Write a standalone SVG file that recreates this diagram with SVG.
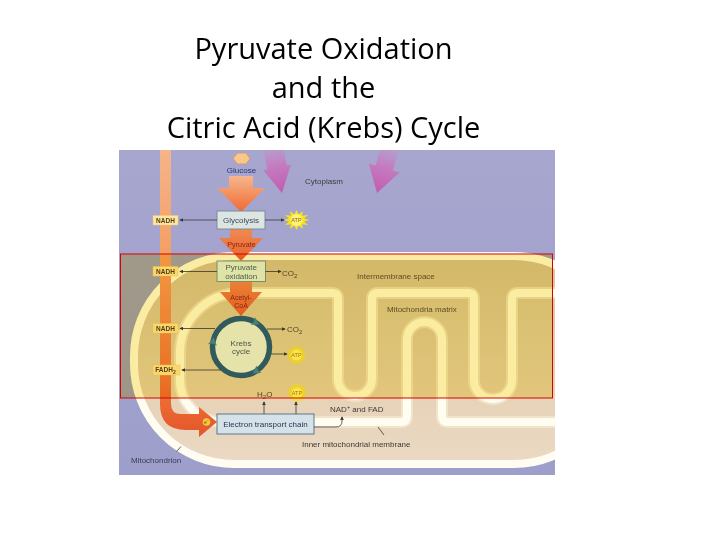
<svg xmlns="http://www.w3.org/2000/svg" width="720" height="540" viewBox="0 0 720 540">
<style>
.lbl{font-family:"Liberation Sans",Arial,sans-serif;font-size:8px;fill:#3b3a36}
.nb{font-family:"Liberation Sans",Arial,sans-serif;font-size:6.5px;font-weight:bold;fill:#5c3b12;text-anchor:middle}
.ttl{font-family:"Open Sans","Noto Sans",sans-serif;font-size:29px;fill:#000;text-anchor:middle}
.ln{fill:none;stroke:#3a3a38;stroke-width:0.8}
.mem{stroke:#fffcf0;stroke-width:8;stroke-linejoin:round}
.nbox{fill:#fde6a2;stroke:#f0c870;stroke-width:0.5}
.atpt{font-family:"Liberation Sans",Arial,sans-serif;font-size:5.5px;fill:#8a6400;text-anchor:middle}
.fat{fill:url(#ogr2)}
.parr{fill:url(#pgr)}
</style>
<defs>
<clipPath id="pic"><rect x="119" y="150" width="436" height="325"/></clipPath>
<marker id="ah" viewBox="0 0 6 6" refX="5" refY="3" markerWidth="5" markerHeight="5" orient="auto"><path d="M0,0 L6,3 L0,6 Z" fill="#3a3a38"/></marker>
<linearGradient id="igr" gradientUnits="userSpaceOnUse" x1="0" y1="256" x2="0" y2="464"><stop offset="0" stop-color="#d8c49c"/><stop offset="1" stop-color="#ecd9c4"/></linearGradient>
<linearGradient id="mgr" gradientUnits="userSpaceOnUse" x1="0" y1="293" x2="0" y2="422"><stop offset="0" stop-color="#dccaa4"/><stop offset="1" stop-color="#e8d5bc"/></linearGradient>
<linearGradient id="bgr" gradientUnits="userSpaceOnUse" x1="0" y1="150" x2="0" y2="475"><stop offset="0" stop-color="#a7a6cf"/><stop offset="1" stop-color="#9d9eca"/></linearGradient>
<linearGradient id="ogr" gradientUnits="userSpaceOnUse" x1="0" y1="150" x2="0" y2="440"><stop offset="0" stop-color="#f5b48a"/><stop offset="0.45" stop-color="#f49a5a"/><stop offset="0.8" stop-color="#ee7838"/><stop offset="1" stop-color="#e4522a"/></linearGradient>
<linearGradient id="ggr" x1="0" y1="0" x2="0" y2="1"><stop offset="0" stop-color="#f7b68c"/><stop offset="1" stop-color="#ef6a32"/></linearGradient>
<linearGradient id="ogr2" x1="0" y1="0" x2="0" y2="1"><stop offset="0" stop-color="#f08a52"/><stop offset="1" stop-color="#e8622c"/></linearGradient>
<linearGradient id="pgr" x1="0" y1="0" x2="0" y2="1"><stop offset="0" stop-color="#b8a6d0" stop-opacity="0.5"/><stop offset="0.5" stop-color="#c47cc0"/><stop offset="1" stop-color="#c25bb0"/></linearGradient>
<radialGradient id="glow"><stop offset="0" stop-color="#fff58a"/><stop offset="0.55" stop-color="#f6e21e"/><stop offset="1" stop-color="#f6e21e" stop-opacity="0"/></radialGradient>
<path id="star" d="M11,0 L6.28,1.68 L9.53,5.5 L4.6,4.6 L5.5,9.53 L1.68,6.28 L0,11 L-1.68,6.28 L-5.5,9.53 L-4.6,4.6 L-9.53,5.5 L-6.28,1.68 L-11,0 L-6.28,-1.68 L-9.53,-5.5 L-4.6,-4.6 L-5.5,-9.53 L-1.68,-6.28 L0,-11 L1.68,-6.28 L5.5,-9.53 L4.6,-4.6 L9.53,-5.5 L6.28,-1.68 Z"/>
<path id="chev" d="M4.5,0 L-3,-4.5 L-1.5,0 L-3,4.5 Z" fill="#4a8aa8"/>
</defs>

<rect width="720" height="540" fill="#fff"/>

<g id="title">
<text class="ttl" x="323.5" y="58.5">Pyruvate Oxidation</text>
<text class="ttl" x="323.5" y="98">and the</text>
<text class="ttl" x="323.5" y="137.5">Citric Acid (Krebs) Cycle</text>
</g>

<g clip-path="url(#pic)">
<rect x="119" y="150" width="436" height="325" fill="url(#bgr)"/>
<g id="cytoplasm-arrows">
<path class="parr" transform="translate(282,193) rotate(-11)" d="M-10,-56 H10 V-26 H14 L0,0 L-14,-26 H-10 Z"/>
<path class="parr" transform="translate(377,193) rotate(16)" d="M-9,-56 H9 V-26 H16 L0,0 L-16,-26 H-9 Z"/>
</g>
<g id="mitochondrion">
<rect x="134" y="256" width="480" height="208" rx="100" ry="100" fill="url(#igr)" stroke="#fffcf2" stroke-width="8"/>
<path id="inner-membrane-glow" d="M565,293 H518 Q512,293 512,299 V380 A19,19 0 0 1 474,380 V299 Q474,293 468,293 H378 Q372,293 372,299 V379 A17,17 0 0 1 338,379 V299 Q338,293 332,293 H240 A60,60 0 0 0 180,353 V380 A42,42 0 0 0 222,422 H401 Q407,422 407,416 V339.5 A17.5,17.5 0 0 1 442,339.5 V416 Q442,422 448,422 H565 Z" fill="url(#mgr)" stroke="#f8eed6" stroke-width="12" stroke-opacity="0.6"/>
<path id="inner-membrane" class="mem" fill="none" d="M565,293 H518 Q512,293 512,299 V380 A19,19 0 0 1 474,380 V299 Q474,293 468,293 H378 Q372,293 372,299 V379 A17,17 0 0 1 338,379 V299 Q338,293 332,293 H240 A60,60 0 0 0 180,353 V380 A42,42 0 0 0 222,422 H401 Q407,422 407,416 V339.5 A17.5,17.5 0 0 1 442,339.5 V416 Q442,422 448,422 H565 Z"/>
</g>

<g id="electron-flow">
<path d="M160,150 H171 V404 Q171,414 181,414 H199 V407 L217,422 L199,437 V430 H186 Q160,430 160,404 Z" fill="url(#ogr)"/>
<circle cx="206.5" cy="422" r="3.8" fill="#f5c842"/>
<text x="206.5" y="423.8" font-family="Liberation Sans, Arial, sans-serif" font-size="4.5" fill="#6a3a00" text-anchor="middle">e<tspan dy="-1.5" font-size="3.5">−</tspan></text>
</g>

<g id="glucose">
<polygon points="233,158.5 237.5,153 246,153 250,158.5 246,164 237.5,164" fill="#f6c88e" stroke="#d9955a" stroke-width="0.8"/>
<text class="lbl" x="241.5" y="173.3" text-anchor="middle" style="fill:#2b3270">Glucose</text>
<path d="M229,176 H253 V188 H265 L241,212 L217,188 H229 Z" fill="url(#ggr)"/>
</g>

<g id="pyruvate">
<path class="fat" d="M230,229 H252 V238 H263 L241,261 L219,238 H230 Z"/>
<text x="241.5" y="246.5" font-family="Liberation Sans, Arial, sans-serif" font-size="7.2" fill="#8b2110" text-anchor="middle">Pyruvate</text>
</g>

<g id="acetyl-coa">
<path class="fat" d="M230,281 H252 V292 H262 L241,316 L220,292 H230 Z"/>
<text x="241" y="299.5" font-family="Liberation Sans, Arial, sans-serif" font-size="7" fill="#8b2c10" text-anchor="middle">Acetyl-</text>
<text x="241" y="307.5" font-family="Liberation Sans, Arial, sans-serif" font-size="7" fill="#8b2c10" text-anchor="middle">CoA</text>
</g>

<g id="glycolysis">
<rect x="217" y="211" width="48" height="18" fill="#dde5e3" stroke="#7d8e96" stroke-width="1"/>
<text class="lbl" x="241" y="223" text-anchor="middle" font-size="8.3" style="fill:#3a4a58">Glycolysis</text>
</g>

<g id="pyruvate-oxidation">
<rect x="217" y="261" width="48.5" height="20.5" fill="#e4f2f6" stroke="#7f96a0" stroke-width="1"/>
<text class="lbl" x="241.2" y="270.3" text-anchor="middle" font-size="8.8" style="fill:#4e6478">Pyruvate</text>
<text class="lbl" x="241.2" y="279.2" text-anchor="middle" font-size="8.8" style="fill:#4e6478">oxidation</text>
</g>

<g id="krebs-cycle">
<circle cx="241" cy="347" r="28.5" fill="#eaf2fc" stroke="#316088" stroke-width="5.5"/>
<use href="#chev" transform="translate(255.3,322.3) rotate(30)"/>
<use href="#chev" transform="translate(212.9,342) rotate(280)"/>
<use href="#chev" transform="translate(256.5,370.9) rotate(147)"/>
<text class="lbl" x="241" y="345.8" text-anchor="middle" style="fill:#4d5a70">Krebs</text>
<text class="lbl" x="241" y="353.8" text-anchor="middle" style="fill:#4d5a70">cycle</text>
</g>

<g id="etc">
<rect x="217" y="414" width="97" height="20" fill="#d6e2ea" stroke="#5f7684" stroke-width="1"/>
<text class="lbl" x="265.5" y="427" text-anchor="middle" font-size="8.2" style="fill:#27374a">Electron transport chain</text>
</g>

<g id="nadh-1"><rect class="nbox" x="153" y="215.5" width="25" height="9.5"/><text class="nb" x="165.5" y="222.5">NADH</text></g>
<g id="nadh-2"><rect class="nbox" x="153" y="266.5" width="25" height="9.5"/><text class="nb" x="165.5" y="273.5">NADH</text></g>
<g id="nadh-3"><rect class="nbox" x="153" y="323.5" width="25" height="9.5"/><text class="nb" x="165.5" y="330.5">NADH</text></g>
<g id="fadh2"><rect class="nbox" x="153" y="365" width="27" height="10"/><text class="nb" x="165.5" y="372">FADH<tspan dy="1.8" font-size="5">2</tspan></text></g>

<g id="atp-1"><use href="#star" fill="#f7e21c" transform="translate(296.5,220) scale(1.2,0.92)"/><circle cx="296.5" cy="220" r="6" fill="#fff07a"/><text class="atpt" x="296.5" y="222">ATP</text></g>
<g id="atp-2"><circle cx="296.5" cy="355" r="10" fill="url(#glow)"/><use href="#star" fill="#f7e21c" fill-opacity="0.5" transform="translate(296.5,355) scale(0.85)"/><circle cx="296.5" cy="355" r="5.5" fill="#fff27a"/><text class="atpt" x="296.5" y="357" style="fill:#b07a00">ATP</text></g>
<g id="atp-3"><circle cx="297" cy="393" r="10" fill="url(#glow)"/><use href="#star" fill="#f7e21c" fill-opacity="0.5" transform="translate(297,393) scale(0.85)"/><circle cx="297" cy="393" r="5.5" fill="#fff27a"/><text class="atpt" x="297" y="395" style="fill:#b07a00">ATP</text></g>

<g id="co2-1"><text class="lbl" x="282" y="275.5" font-size="8.5" style="fill:#544a3a">CO<tspan dy="2" font-size="6">2</tspan></text></g>
<g id="co2-2"><text class="lbl" x="287" y="332" font-size="8.5" style="fill:#544a3a">CO<tspan dy="2" font-size="6">2</tspan></text></g>
<g id="h2o"><text class="lbl" x="257" y="397" font-size="8.5" style="fill:#544a3a">H<tspan dy="2" font-size="6">2</tspan><tspan dy="-2">O</tspan></text></g>
<g id="nad-fad"><text class="lbl" x="330" y="412">NAD<tspan dy="-3" font-size="5.5">+</tspan><tspan dy="3"> and FAD</tspan></text></g>

<g id="connectors">
<path class="ln" marker-end="url(#ah)" d="M217,220 H180"/>
<path class="ln" marker-end="url(#ah)" d="M265,220 H284"/>
<path class="ln" marker-end="url(#ah)" d="M217,271.5 H180"/>
<path class="ln" marker-end="url(#ah)" d="M265.5,271.5 H281"/>
<path class="ln" marker-end="url(#ah)" d="M215,328.5 H180"/>
<path class="ln" marker-end="url(#ah)" d="M267,329 H285"/>
<path class="ln" marker-end="url(#ah)" d="M271,354 H287"/>
<path class="ln" marker-end="url(#ah)" d="M221,370 H182"/>
<path class="ln" marker-end="url(#ah)" d="M264,414 V402"/>
<path class="ln" marker-end="url(#ah)" d="M296,414 V402"/>
<path class="ln" marker-end="url(#ah)" d="M314,427 H336 Q342,427 342,421 V417"/>
<path class="ln" d="M378,427 L384,435"/>
<path class="ln" d="M176.5,451.5 L181,446.5"/>
</g>

<g id="region-labels">
<text class="lbl" x="305" y="184">Cytoplasm</text>
<text class="lbl" x="357" y="278.5" style="fill:#5e5030">Intermembrane space</text>
<text class="lbl" x="387" y="312" style="fill:#5e5030">Mitochondria matrix</text>
<text class="lbl" x="302" y="447">Inner mitochondrial membrane</text>
<text class="lbl" x="131" y="463" style="fill:#3b3b5a">Mitochondrion</text>
</g>
</g>

<rect id="highlight" x="120.5" y="254" width="432" height="144" fill="#f6e468" fill-opacity="0.55" style="mix-blend-mode:multiply"/>
<rect id="highlight-frame" x="120.5" y="254" width="432" height="144" fill="none" stroke="#d80000" stroke-width="1"/>
</svg>
